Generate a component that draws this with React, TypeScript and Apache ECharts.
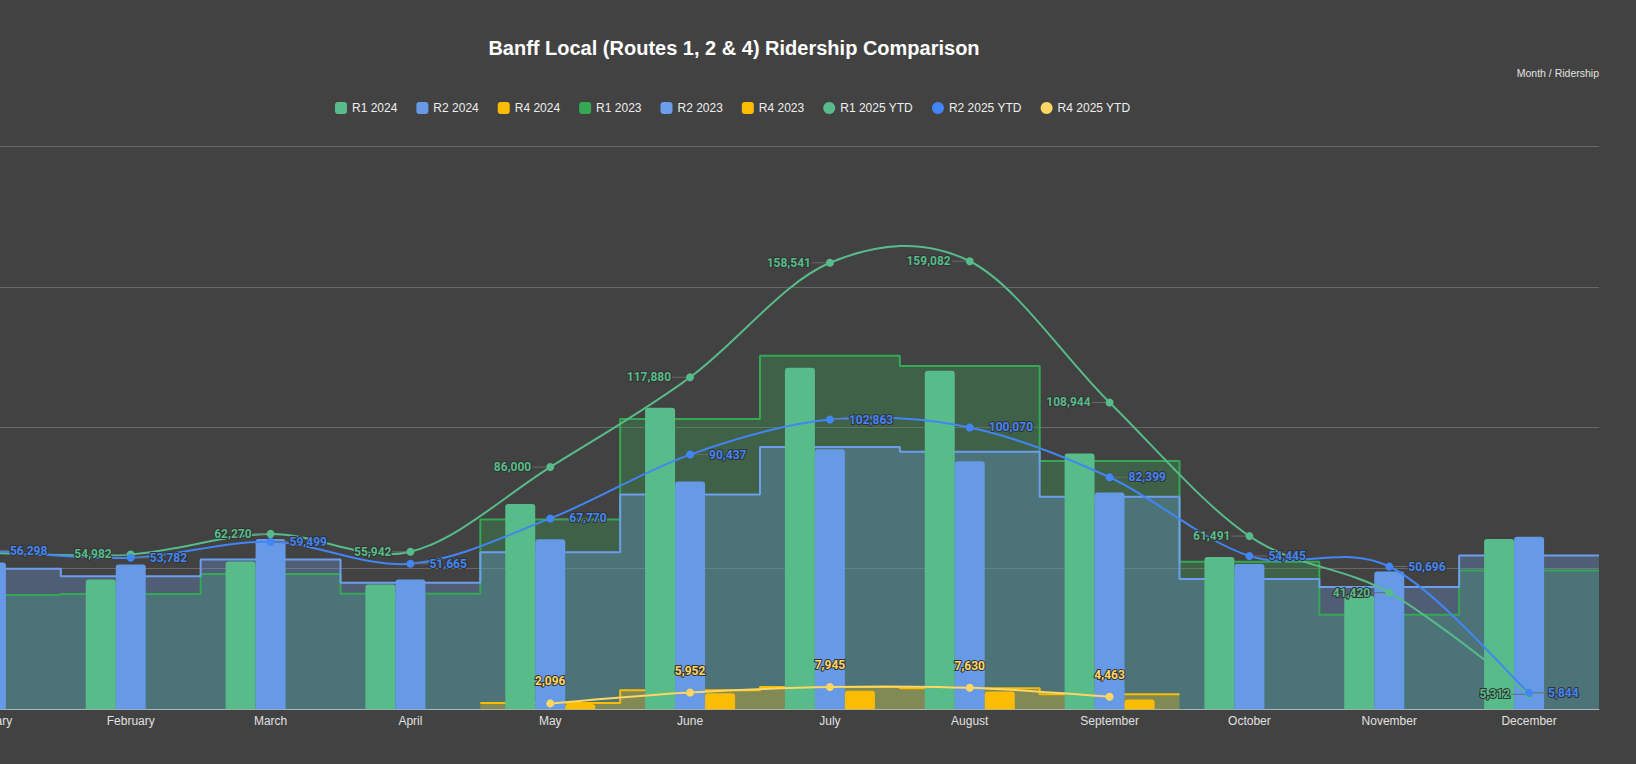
import React, { useEffect, useRef } from 'react';
import * as echarts from 'echarts';

const months = ['January', 'February', 'March', 'April', 'May', 'June', 'July', 'August', 'September', 'October', 'November', 'December'];

// 2024 (bars)
const r1_2024 = [45000, 46100, 52500, 44300, 72900, 107100, 121300, 120200, 90800, 54100, 40300, 60500];
const r2_2024 = [52100, 51400, 60500, 46100, 60400, 80900, 92300, 88100, 77000, 51600, 48900, 61300];
const r4_2024: (number | null)[] = [null, null, null, null, 1900, 5700, 6600, 6300, 3500, null, null, null];

// 2023 (step areas)
const r1_2023 = [40600, 40900, 48000, 41000, 67400, 103100, 125500, 121900, 88200, 52400, 33600, 49300];
const r2_2023 = [49900, 47200, 53200, 44900, 55800, 76300, 93100, 91400, 75500, 46300, 43400, 54600];
const r4_2023: (number | null)[] = [null, null, null, null, 2200, 6800, 7900, 7500, 5300, null, null, null];

// 2025 YTD (smooth lines)
const r1_2025 = [55500, 54982, 62270, 55942, 86000, 117880, 158541, 159082, 108944, 61491, 41420, 5312];
const r2_2025 = [56298, 53782, 59499, 51665, 67770, 90437, 102863, 100070, 82399, 54445, 50696, 5844];
const r4_2025: (number | null)[] = [null, null, null, null, 2096, 5952, 7945, 7630, 4463, null, null, null];

const yMin = 0;
const yMax = 200000;
const yInterval = 50000;

const C = {
  r1_2024: '#57bb8a',
  r2_2024: '#6699e6',
  r4_2024: '#fbbc04',
  r1_2023: '#34a853',
  r2_2023: '#6d9eeb',
  r4_2023: '#fbbc04',
  r1_2025: '#57bb8a',
  r2_2025: '#4285f4',
  r4_2025: '#fdd663',
};

const FONT = "'Liberation Sans', Arial, sans-serif";
const LABEL_FONT = "Roboto, 'Liberation Sans', sans-serif";
const SHIFT = 79; // chart canvas starts left of the page (January band is cut off)

function stepData(vals: (number | null)[]) {
  const out: any[] = [];
  vals.forEach((v, i) => {
    out.push([i - 0.5, v == null ? '-' : v]);
    if (v != null && (i === vals.length - 1 || vals[i + 1] == null)) out.push([i + 0.5, v]);
  });
  return out;
}

const fmt = (p: any) => {
  const v = Array.isArray(p.value) ? p.value[1] : p.value;
  if (v == null || v === '-') return '';
  return Number(v).toLocaleString('en-US');
};

function stepSeries(name: string, vals: (number | null)[], color: string) {
  return {
    name,
    type: 'line',
    xAxisIndex: 1,
    step: 'end',
    z: 1,
    symbol: 'none',
    data: stepData(vals),
    lineStyle: { color, width: 2 },
    itemStyle: { color },
    areaStyle: { color, opacity: 0.3 },
  };
}

function barSeries(name: string, vals: (number | null)[], color: string) {
  return {
    name,
    type: 'bar',
    z: 2,
    barWidth: 30,
    barGap: '0%',
    data: vals.map((v) => (v == null ? '-' : v)),
    itemStyle: { color, borderRadius: [3, 3, 0, 0] },
  };
}

// Catmull-Rom curve drawn through the points given by the axes
function curveSeries(name: string, vals: (number | null)[], color: string) {
  return {
    name: name + ' curve',
    type: 'custom',
    z: 3,
    silent: true,
    clip: true,
    data: vals.map((v, i) => [i, v == null ? '-' : v]),
    renderItem: (params: any, api: any) => {
      const i = params.dataIndex;
      const v1 = vals[i];
      const v2 = vals[i + 1];
      if (v1 == null || v2 == null) return null;
      const p1 = api.coord([i, v1]);
      const p2 = api.coord([i + 1, v2]);
      const p0 = i > 0 && vals[i - 1] != null ? api.coord([i - 1, vals[i - 1]]) : p1;
      const p3 = i + 2 < vals.length && vals[i + 2] != null ? api.coord([i + 2, vals[i + 2]]) : p2;
      return {
        type: 'bezierCurve',
        shape: {
          x1: p1[0],
          y1: p1[1],
          x2: p2[0],
          y2: p2[1],
          cpx1: p1[0] + (p2[0] - p0[0]) / 6,
          cpy1: p1[1] + (p2[1] - p0[1]) / 6,
          cpx2: p2[0] - (p3[0] - p1[0]) / 6,
          cpy2: p2[1] - (p3[1] - p1[1]) / 6,
        },
        style: { stroke: color, lineWidth: 2, fill: null },
      };
    },
  };
}

function ytdSeries(
  name: string,
  vals: (number | null)[],
  color: string,
  pos: 'left' | 'right' | 'top',
  hiddenLabels: number[] = []
) {
  const label: any = {
    show: true,
    position: pos,
    color,
    fontFamily: LABEL_FONT,
    fontSize: 12,
    fontWeight: 'bold',
    textBorderColor: '#333',
    textBorderWidth: 2,
    formatter: fmt,
  };
  const s: any = {
    name,
    type: 'line',
    z: 4,
    symbol: 'circle',
    symbolSize: 8,
    showSymbol: true,
    data: vals.map((v, i) =>
      v == null ? '-' : hiddenLabels.indexOf(i) >= 0 ? { value: v, label: { show: false }, labelLine: { show: false } } : v
    ),
    lineStyle: { color, width: 0, opacity: 0 },
    itemStyle: { color },
    label,
  };
  if (pos === 'top') {
    label.distance = 12;
  } else {
    s.labelLayout = { dx: pos === 'left' ? -10 : 10 };
    s.labelLine = { show: true, lineStyle: { color: '#6a6a6a', width: 1 } };
  }
  return s;
}

export default function App() {
  const ref = useRef<HTMLDivElement>(null);

  useEffect(() => {
    document.body.style.margin = '0';
    if (!ref.current) return;
    const chart = echarts.init(ref.current, null, { renderer: 'svg' });
    chart.setOption({
      animation: false,
      backgroundColor: '#424242',
      textStyle: { fontFamily: FONT },
      title: [
        {
          text: 'Banff Local (Routes 1, 2 & 4) Ridership Comparison',
          left: 729 + SHIFT,
          top: 33,
          textAlign: 'center',
          textStyle: { color: '#ffffff', fontSize: 20, fontWeight: 'bold', fontFamily: FONT },
        },
        {
          text: 'Month / Ridership',
          right: 32,
          top: 62,
          textStyle: { color: '#e0e0e0', fontSize: 10.5, fontWeight: 'normal', fontFamily: FONT },
        },
      ],
      legend: {
        left: 330 + SHIFT,
        top: 97,
        itemWidth: 12,
        itemHeight: 12,
        itemGap: 19,
        textStyle: { color: '#eeeeee', fontSize: 12, fontFamily: FONT },
        data: [
          { name: 'R1 2024', icon: 'roundRect' },
          { name: 'R2 2024', icon: 'roundRect' },
          { name: 'R4 2024', icon: 'roundRect' },
          { name: 'R1 2023', icon: 'roundRect' },
          { name: 'R2 2023', icon: 'roundRect' },
          { name: 'R4 2023', icon: 'roundRect' },
          { name: 'R1 2025 YTD', icon: 'circle' },
          { name: 'R2 2025 YTD', icon: 'circle' },
          { name: 'R4 2025 YTD', icon: 'circle' },
        ],
      },
      grid: { left: 0, right: 37, top: 146, bottom: 54.7, containLabel: false },
      xAxis: [
        {
          type: 'category',
          data: months,
          axisTick: { show: false },
          axisLine: { lineStyle: { color: '#b8b8b8', width: 1 } },
          axisLabel: { color: '#e0e0e0', fontSize: 12, margin: 6, fontFamily: FONT },
        },
        {
          type: 'value',
          min: -0.5,
          max: 11.5,
          show: false,
        },
      ],
      yAxis: {
        type: 'value',
        min: yMin,
        max: yMax,
        interval: yInterval,
        axisLabel: { show: false },
        axisLine: { show: false },
        axisTick: { show: false },
        splitLine: { lineStyle: { color: '#686868', width: 1 } },
      },
      series: [
        barSeries('R1 2024', r1_2024, C.r1_2024),
        barSeries('R2 2024', r2_2024, C.r2_2024),
        barSeries('R4 2024', r4_2024, C.r4_2024),
        stepSeries('R1 2023', r1_2023, C.r1_2023),
        stepSeries('R2 2023', r2_2023, C.r2_2023),
        stepSeries('R4 2023', r4_2023, C.r4_2023),
        curveSeries('R1 2025 YTD', r1_2025, C.r1_2025),
        curveSeries('R2 2025 YTD', r2_2025, C.r2_2025),
        curveSeries('R4 2025 YTD', r4_2025, C.r4_2025),
        ytdSeries('R1 2025 YTD', r1_2025, C.r1_2025, 'left', [0]),
        ytdSeries('R2 2025 YTD', r2_2025, C.r2_2025, 'right'),
        ytdSeries('R4 2025 YTD', r4_2025, C.r4_2025, 'top'),
      ],
    });
    return () => chart.dispose();
  }, []);

  return (
    <div
      ref={ref}
      style={{ position: 'fixed', left: -SHIFT, top: 0, width: `calc(100vw + ${SHIFT}px)`, height: '100vh' }}
    />
  );
}
